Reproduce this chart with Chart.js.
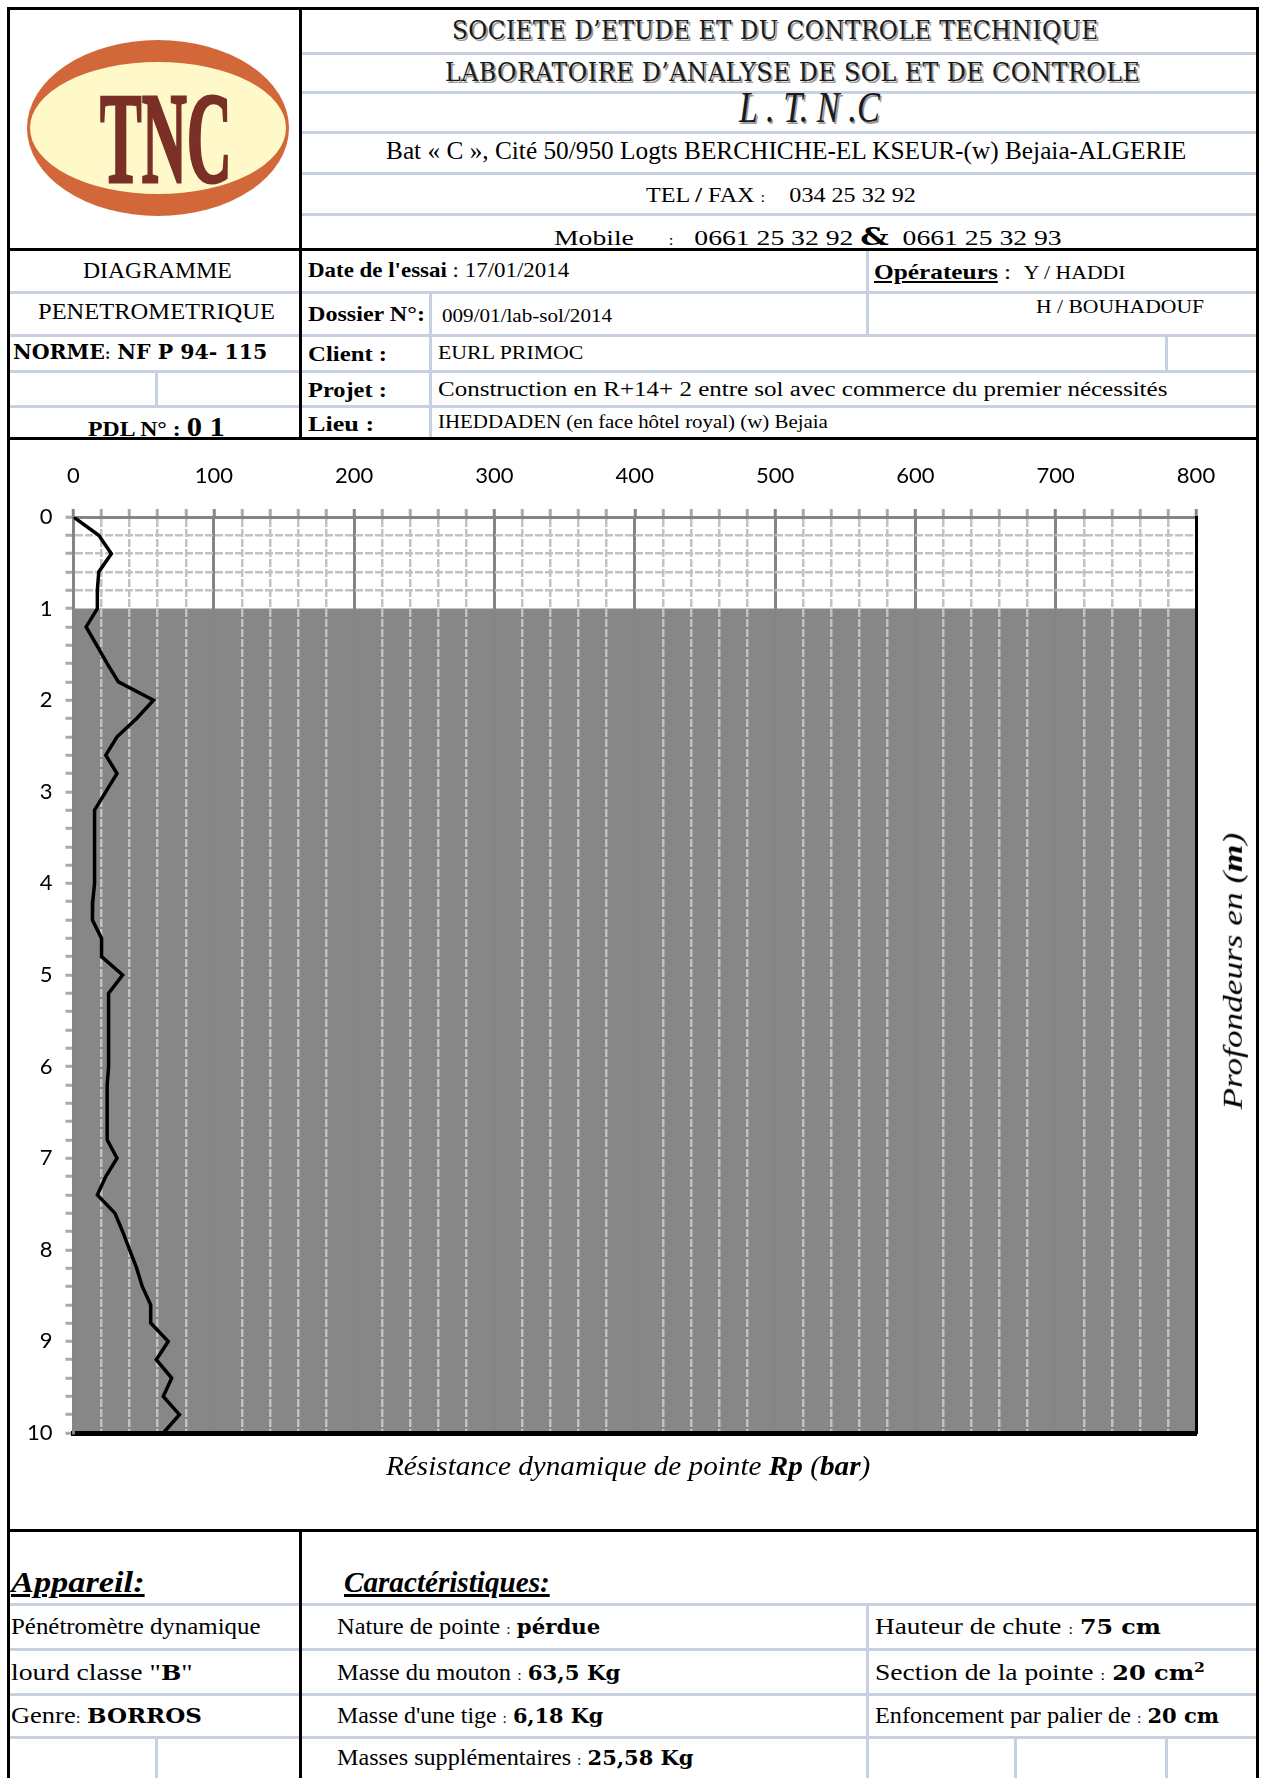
<!DOCTYPE html>
<html>
<head>
<meta charset="utf-8">
<script src="https://cdn.jsdelivr.net/npm/chart.js@4.4.1/dist/chart.umd.min.js"></script>
<style>
body{margin:0;background:#fff;}
#page{position:relative;width:1261px;height:1778px;overflow:hidden;background:#fff;font-family:"Liberation Serif","Times New Roman",serif;color:#000;}
.l{position:absolute;background:#000;}
.g{position:absolute;background:#c8d1e1;}
.t{position:absolute;white-space:nowrap;line-height:1.15;transform-origin:0 50%;font-family:"Liberation Serif","Times New Roman",serif;}
.alg{font-family:"DejaVu Serif",serif;color:#1a1a1a;text-shadow:2px 2px 0 #9a9a9a;letter-spacing:0.5px;}
.bk{font-family:"DejaVu Serif",serif;font-weight:bold;}
.b{font-weight:bold;}
#chartBox{position:absolute;left:10px;top:442px;width:1246px;height:1087px;}
</style>
</head>
<body>
<div id="page">
<!-- logo -->
<svg style="position:absolute;left:0;top:0" width="300" height="249">
  <ellipse cx="158" cy="128" rx="131" ry="88" fill="#d2683a"/>
  <ellipse cx="158" cy="128" rx="128" ry="66" fill="#fff8c8"/>
  <text x="100" y="182" font-family="Liberation Serif" font-weight="bold" font-size="130" fill="#7a2f27" stroke="#7a2f27" stroke-width="3" textLength="132" lengthAdjust="spacingAndGlyphs">TNC</text>
</svg>

<!-- light separator lines -->
<div class="g" style="left:302px;top:52px;width:954px;height:3px"></div>
<div class="g" style="left:302px;top:91px;width:954px;height:3px"></div>
<div class="g" style="left:302px;top:131px;width:954px;height:3px"></div>
<div class="g" style="left:302px;top:172px;width:954px;height:3px"></div>
<div class="g" style="left:302px;top:213px;width:954px;height:3px"></div>

<div class="g" style="left:10px;top:291px;width:1246px;height:3px"></div>
<div class="g" style="left:10px;top:334px;width:1246px;height:3px"></div>
<div class="g" style="left:10px;top:370px;width:1246px;height:3px"></div>
<div class="g" style="left:10px;top:405px;width:1246px;height:3px"></div>
<div class="g" style="left:429px;top:292px;width:3px;height:146px"></div>
<div class="g" style="left:866px;top:250px;width:3px;height:85px"></div>
<div class="g" style="left:1165px;top:335px;width:3px;height:36px"></div>
<div class="g" style="left:155px;top:371px;width:3px;height:35px"></div>

<div class="g" style="left:10px;top:1603px;width:1246px;height:3px"></div>
<div class="g" style="left:10px;top:1648px;width:1246px;height:3px"></div>
<div class="g" style="left:10px;top:1693px;width:1246px;height:3px"></div>
<div class="g" style="left:10px;top:1736px;width:1246px;height:3px"></div>
<div class="g" style="left:866px;top:1604px;width:3px;height:174px"></div>
<div class="g" style="left:1014px;top:1737px;width:3px;height:41px"></div>
<div class="g" style="left:1165px;top:1737px;width:3px;height:41px"></div>
<div class="g" style="left:155px;top:1737px;width:3px;height:41px"></div>

<!-- black lines -->
<div class="l" style="left:7px;top:7px;width:1252px;height:3px"></div>
<div class="l" style="left:7px;top:7px;width:3px;height:1771px"></div>
<div class="l" style="left:1256px;top:7px;width:3px;height:1771px"></div>
<div class="l" style="left:7px;top:248px;width:1252px;height:3px"></div>
<div class="l" style="left:299px;top:7px;width:3px;height:433px"></div>
<div class="l" style="left:7px;top:437px;width:1252px;height:3px"></div>
<div class="l" style="left:7px;top:1529px;width:1252px;height:3px"></div>
<div class="l" style="left:299px;top:1529px;width:3px;height:249px"></div>

<!-- header texts -->
<div class="t alg" data-x="775" data-y="31" data-w="647" data-a="c" style="font-size:26px">SOCIETE D’ETUDE ET DU CONTROLE TECHNIQUE</div>
<div class="t alg" data-x="792" data-y="73" data-w="695" data-a="c" style="font-size:26px">LABORATOIRE D’ANALYSE DE SOL ET DE CONTROLE</div>
<div class="t" data-x="809" data-y="108" data-w="141" data-a="c" style="font-size:45px;font-style:italic;color:#1a1a1a;text-shadow:2px 2px 0 #9a9a9a">L . T. N .C</div>
<div class="t" data-x="786" data-y="151" data-w="800" data-a="c" style="font-size:26px">Bat « C », Cité 50/950 Logts BERCHICHE-EL KSEUR-(w) Bejaia-ALGERIE</div>
<div class="t" data-x="781" data-y="195" data-w="270" data-a="c" style="font-size:20px">TEL <b>/</b> FAX <span style="font-size:14px">:</span>&nbsp;&nbsp;&nbsp;&nbsp;034 25 32 92</div>
<div class="t" data-x="807" data-y="237" data-w="507" data-a="c" style="font-size:21px">Mobile &nbsp;&nbsp;&nbsp;&nbsp;<span style="font-size:14px">:</span>&nbsp;&nbsp;&nbsp;0661 25 32 92 <span class="bk" style="font-size:24px">&amp;</span>&nbsp;&nbsp;0661 25 32 93</div>

<!-- info table -->
<div class="t" data-x="157" data-y="271" data-w="149" data-a="c" style="font-size:24px">DIAGRAMME</div>
<div class="t" data-x="156" data-y="312" data-w="237" data-a="c" style="font-size:24px">PENETROMETRIQUE</div>
<div class="t bk" data-x="13" data-y="352" data-w="254" data-a="l" style="font-size:20px">NORME<span style="font-size:14px">:</span> NF P 94- 115</div>
<div class="t b" data-x="156" data-y="427" data-w="137" data-a="c" style="font-size:21px">PDL N° : <span style="font-size:27px">0 1</span></div>

<div class="t" data-x="308" data-y="270" data-w="261" data-a="l" style="font-size:21px"><b>Date de l'essai</b> : 17/01/2014</div>
<div class="t" data-x="874" data-y="272" data-w="252" data-a="l" style="font-size:21px"><b><u>Opérateurs</u></b> :&nbsp; <span style="font-size:18px">Y / HADDI</span></div>
<div class="t" data-x="1036" data-y="307" data-w="168" data-a="l" style="font-size:18px">H / BOUHADOUF</div>
<div class="t b" data-x="308" data-y="314" data-w="117" data-a="l" style="font-size:21px">Dossier N°:</div>
<div class="t" data-x="442" data-y="316" data-w="170" data-a="l" style="font-size:19px">009/01/lab-sol/2014</div>
<div class="t b" data-x="308" data-y="354" data-w="79" data-a="l" style="font-size:21px">Client :</div>
<div class="t" data-x="438" data-y="353" data-w="146" data-a="l" style="font-size:19px">EURL PRIMOC</div>
<div class="t b" data-x="308" data-y="390" data-w="79" data-a="l" style="font-size:21px">Projet :</div>
<div class="t" data-x="438" data-y="389" data-w="730" data-a="l" style="font-size:20px">Construction en R+14+ 2 entre sol avec commerce du premier nécessités</div>
<div class="t b" data-x="308" data-y="424" data-w="66" data-a="l" style="font-size:21px">Lieu :</div>
<div class="t" data-x="438" data-y="422" data-w="390" data-a="l" style="font-size:18px">IHEDDADEN (en face hôtel royal) (w) Bejaia</div>

<!-- chart -->
<div id="chartBox"><canvas id="chart" width="1246" height="1087"></canvas></div>
<div class="t" data-x="628" data-y="1466" data-w="484" data-a="c" style="font-size:28px;font-style:italic">Résistance dynamique de pointe <b>Rp</b> (<b>bar</b>)</div>
<div class="t" data-x="1233" data-y="971" data-w="277" data-rot="1" style="font-size:28px;font-style:italic">Profondeurs en (<b>m</b>)</div>

<!-- bottom table -->
<div class="t" data-x="11" data-y="1582" data-w="134" data-a="l" style="font-size:30px;font-style:italic;font-weight:bold;text-decoration:underline">Appareil:</div>
<div class="t" data-x="344" data-y="1582" data-w="206" data-a="l" style="font-size:30px;font-style:italic;font-weight:bold;text-decoration:underline">Caractéristiques:</div>
<div class="t" data-x="11" data-y="1627" data-w="250" data-a="l" style="font-size:23px">Pénétromètre dynamique</div>
<div class="t" data-x="11" data-y="1673" data-w="182" data-a="l" style="font-size:23px">lourd classe "<span class="bk" style="font-size:20px">B</span>"</div>
<div class="t" data-x="11" data-y="1716" data-w="191" data-a="l" style="font-size:23px">Genre<span style="font-size:15px">:</span> <span class="bk" style="font-size:20px">BORROS</span></div>
<div class="t" data-x="337" data-y="1627" data-w="227" data-sref="mouton" data-a="l" style="font-size:23px">Nature de pointe <span style="font-size:15px">:</span> <span class="bk" style="font-size:20px">pérdue</span></div>
<div class="t" id="mouton" data-x="337" data-y="1673" data-w="283" data-a="l" style="font-size:23px">Masse du mouton <span style="font-size:15px">:</span> <span class="bk" style="font-size:20px">63,5 Kg</span></div>
<div class="t" data-x="337" data-y="1716" data-w="266" data-a="l" style="font-size:23px">Masse d'une tige <span style="font-size:15px">:</span> <span class="bk" style="font-size:20px">6,18 Kg</span></div>
<div class="t" data-x="337" data-y="1758" data-w="357" data-a="l" style="font-size:23px">Masses supplémentaires <span style="font-size:15px">:</span> <span class="bk" style="font-size:20px">25,58 Kg</span></div>
<div class="t" data-x="875" data-y="1627" data-w="286" data-a="l" style="font-size:23px">Hauteur de chute <span style="font-size:15px">:</span> <span class="bk" style="font-size:20px">75 cm</span></div>
<div class="t" data-x="875" data-y="1673" data-w="330" data-a="l" style="font-size:23px">Section de la pointe <span style="font-size:15px">:</span> <span class="bk" style="font-size:20px">20 cm<sup style="font-size:13px">2</sup></span></div>
<div class="t" data-x="875" data-y="1716" data-w="344" data-a="l" style="font-size:23px">Enfoncement par palier de <span style="font-size:15px">:</span> <span class="bk" style="font-size:20px">20 cm</span></div>
</div>

<script>
// ---- data ----
const DEPTHS = [0,0.2,0.4,0.6,0.8,1,1.2,1.4,1.6,1.8,2,2.2,2.4,2.6,2.8,3,3.2,3.4,3.6,3.8,4,4.2,4.4,4.6,4.8,5,5.2,5.4,5.6,5.8,6,6.2,6.4,6.6,6.8,7,7.2,7.4,7.6,7.8,8,8.2,8.4,8.6,8.8,9,9.2,9.4,9.6,9.8,10];
const RP = [0,18,27,18,17,17,9,16.5,24,32,57,45,31,23,31,23,15,15,15,15,15,13.7,13.5,20,20,35,25,25,25,25,25,24,24,24,24,31,23,17,29.5,35,40,45,49,55,55,67.5,59,70,64,75.5,64];
const X_TICK_STEP = 20;
const X_LABEL_STEP = 100;
const Y_TICK_STEP = 0.2;
const X_RANGE = [0, 800];
const Y_RANGE = [0, 10];
const FILL_X = [0, 800];
const FILL_DEPTH = [1, 1];
const FILL_TO_DEPTH = 10;

// ---- text fitting ----
function fit(){
  const scales = {};
  const els = Array.from(document.querySelectorAll('.t'));
  els.forEach(el=>{ if(el.id){ scales[el.id] = (+el.dataset.w)/el.offsetWidth; } });
  els.forEach(el=>{
    const x=+el.dataset.x, y=+el.dataset.y, w=+el.dataset.w, a=el.dataset.a||'l';
    const w0=el.offsetWidth, h0=el.offsetHeight;
    let s=w/w0;
    if(el.dataset.sref && scales[el.dataset.sref]) s = scales[el.dataset.sref];
    if(el.dataset.rot){
      el.style.left=(x-w0/2)+'px'; el.style.top=(y-h0/2)+'px';
      el.style.transformOrigin='50% 50%';
      el.style.transform='rotate(-90deg) scaleX('+s+')';
      return;
    }
    el.style.left=(a==='c'? x-w0*s/2 : x)+'px';
    el.style.top=(y-h0/2)+'px';
    el.style.transform='scaleX('+s+')';
  });
}
fit();
if(document.fonts && document.fonts.ready){document.fonts.ready.then(fit);}

// ---- chart ----
const clear='rgba(0,0,0,0)';
new Chart(document.getElementById('chart'), {
  type:'line',
  data:{
    datasets:[
      {
        label:'zone',
        data: FILL_X.map((x,i)=>({x:x, y:FILL_DEPTH[i]})),
        xAxisID:'x', yAxisID:'y',
        fill:{value:FILL_TO_DEPTH},
        backgroundColor:'#878787',
        borderWidth:0, pointRadius:0
      },
      {
        label:'Rp',
        data: DEPTHS.map((d,i)=>({x:RP[i], y:d})),
        xAxisID:'x', yAxisID:'y',
        borderColor:'#000', borderWidth:3.5,
        pointRadius:0, tension:0, fill:false
      }
    ]
  },
  options:{
    responsive:false, animation:false,
    layout:{padding:{left:0, top:0, right:60, bottom:96}},
    plugins:{legend:{display:false}, tooltip:{enabled:false}, filler:{drawTime:'beforeDraw'}},
    scales:{
      x:{
        type:'linear', position:'top', min:X_RANGE[0], max:X_RANGE[1],
        afterFit:(s)=>{s.height=75;},
        ticks:{stepSize:X_TICK_STEP, autoSkip:false, maxRotation:0, padding:20, color:'#000',
          font:{family:'Lato', size:22},
          callback:(v)=> (v % X_LABEL_STEP === 0) ? String(v) : ''},
        grid:{
          color:(c)=> (c.tick && c.tick.value % X_LABEL_STEP === 0) ? clear : '#c2c2c2',
          lineWidth:2.5, tickLength:8, tickWidth:3,
          tickColor:(c)=> (c.tick && c.tick.value % X_LABEL_STEP === 0) ? '#858585' : '#a9a9a9'
        },
        border:{color:'#858585', width:3, dash:[8,2]}
      },
      x2:{
        type:'linear', position:'top', min:X_RANGE[0], max:X_RANGE[1],
        afterFit:(s)=>{s.height=0;},
        ticks:{display:false, stepSize:X_LABEL_STEP},
        grid:{color:'#858585', lineWidth:3, drawTicks:false},
        border:{display:false}
      },
      xb:{
        type:'linear', position:'bottom', min:X_RANGE[0], max:X_RANGE[1],
        afterFit:(s)=>{s.height=0;},
        ticks:{display:false},
        grid:{display:false},
        border:{color:'#000', width:5}
      },
      y:{
        type:'linear', position:'left', reverse:true, min:Y_RANGE[0], max:Y_RANGE[1],
        afterFit:(s)=>{s.width=63.5;},
        ticks:{stepSize:Y_TICK_STEP, autoSkip:false, padding:13, color:'#000',
          font:{family:'Lato', size:22},
          callback:(v)=> Number.isInteger(v) ? String(v) : ''},
        grid:{
          color:(c)=>{const v=c.tick ? c.tick.value : 0; return (v>0.01 && v<0.99) ? '#c2c2c2' : clear;},
          lineWidth:2.5, tickLength:8, tickWidth:3, tickColor:'#a9a9a9'
        },
        border:{color:'#858585', width:3, dash:[8,2]}
      },
      yr:{
        type:'linear', position:'right', min:Y_RANGE[0], max:Y_RANGE[1],
        afterFit:(s)=>{s.width=0;},
        ticks:{display:false},
        grid:{display:false},
        border:{color:'#000', width:3}
      }
    }
  }
});
</script>
</body>
</html>
